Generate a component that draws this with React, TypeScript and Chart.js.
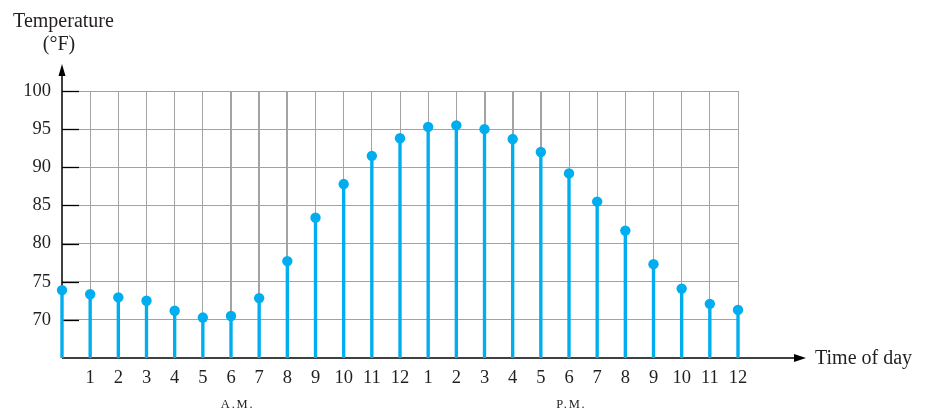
import React, { useEffect, useRef } from "react";
import { Chart, registerables } from "chart.js";

Chart.register(...registerables);

const hours = [0, 1, 2, 3, 4, 5, 6, 7, 8, 9, 10, 11, 12, 13, 14, 15, 16, 17, 18, 19, 20, 21, 22, 23, 24];
const temps = [73.9, 73.35, 72.95, 72.5, 71.2, 70.3, 70.5, 72.85, 77.7, 83.4, 87.8, 91.5, 93.8, 95.3, 95.5, 95.0, 93.7, 92.0, 89.2, 85.5, 81.7, 77.3, 74.1, 72.1, 71.3];
const xTickLabels = ["", "1", "2", "3", "4", "5", "6", "7", "8", "9", "10", "11", "12", "1", "2", "3", "4", "5", "6", "7", "8", "9", "10", "11", "12"];
const yTicks = [70, 75, 80, 85, 90, 95, 100];
const periodLabels = [
  { text: "A.M.", at: 6.2 },
  { text: "P.M.", at: 18.05 },
];
const thickGridHours = [6, 7, 8, 15, 16, 17];

const SERIF = "'Liberation Serif', 'Times New Roman', serif";
const TEXT = "#231f20";
const GRID = "rgb(163,163,163)";
const BLUE = "#00aeef";

const decorPlugin = {
  id: "decor",
  beforeDatasetsDraw(chart: any) {
    const { ctx, chartArea, scales } = chart;
    const { left, right, top, bottom } = chartArea;
    const y = scales.y;
    ctx.save();
    ctx.strokeStyle = "#000";
    ctx.lineWidth = 1.3;
    yTicks.forEach((v) => {
      const py = Math.round(y.getPixelForValue(v)) + 0.5;
      ctx.beginPath();
      ctx.moveTo(left, py);
      ctx.lineTo(left + 17, py);
      ctx.stroke();
    });
    ctx.lineWidth = 1.5;
    ctx.beginPath();
    ctx.moveTo(left, bottom);
    ctx.lineTo(left, top - 16);
    ctx.stroke();
    ctx.fillStyle = "#000";
    ctx.beginPath();
    ctx.moveTo(left, top - 27);
    ctx.lineTo(left - 3.5, top - 15);
    ctx.lineTo(left + 3.5, top - 15);
    ctx.closePath();
    ctx.fill();
    ctx.beginPath();
    ctx.moveTo(left, bottom);
    ctx.lineTo(right + 58, bottom);
    ctx.stroke();
    ctx.beginPath();
    ctx.moveTo(right + 68, bottom);
    ctx.lineTo(right + 56, bottom - 4);
    ctx.lineTo(right + 56, bottom + 4);
    ctx.closePath();
    ctx.fill();
    ctx.restore();
  },
  afterDraw(chart: any) {
    const { ctx, chartArea, scales } = chart;
    const { left, right, top, bottom } = chartArea;
    const x = scales.x;
    ctx.save();
    ctx.fillStyle = TEXT;
    ctx.textAlign = "center";
    ctx.textBaseline = "alphabetic";
    ctx.font = `20px ${SERIF}`;
    ctx.fillText("Temperature", left + 1.5, top - 64);
    ctx.fillText("(°F)", left - 3, top - 41);
    ctx.textAlign = "left";
    ctx.textBaseline = "middle";
    ctx.fillText("Time of day", right + 77, bottom + 1);
    ctx.textAlign = "center";
    ctx.textBaseline = "alphabetic";
    ctx.font = `12.5px ${SERIF}`;
    (ctx as any).letterSpacing = "1.8px";
    periodLabels.forEach((p) => {
      ctx.fillText(p.text, x.getPixelForValue(p.at) + 1, bottom + 50);
    });
    ctx.restore();
  },
};

export default function App() {
  const ref = useRef<HTMLCanvasElement>(null);

  useEffect(() => {
    if (!ref.current) return;
    const chart = new Chart(ref.current, {
      type: "bar",
      data: {
        datasets: [
          {
            type: "scatter",
            data: hours.map((h, i) => ({ x: h, y: temps[i] })),
            backgroundColor: BLUE,
            borderColor: BLUE,
            pointRadius: 5.2,
            pointBorderWidth: 0,
            clip: false,
            order: 0,
          } as any,
          {
            type: "bar",
            data: hours.map((h, i) => ({ x: h, y: temps[i] })),
            backgroundColor: BLUE,
            borderWidth: 0,
            barThickness: 2.7,
            clip: { left: 5, right: 5, top: 0, bottom: 0 },
            order: 1,
          } as any,
        ],
      },
      plugins: [decorPlugin],
      options: {
        responsive: false,
        animation: false,
        events: [],
        layout: { padding: { top: 91, right: 192, left: 0, bottom: 0 } },
        plugins: { legend: { display: false }, tooltip: { enabled: false } },
        scales: {
          x: {
            type: "linear",
            min: 0,
            max: 24,
            offset: false,
            afterFit: (s: any) => {
              s.height = 59;
            },
            border: { display: false },
            grid: {
              offset: false,
              drawTicks: false,
              color: (c: any) => (c.tick && c.tick.value === 0 ? "rgba(0,0,0,0)" : GRID),
              lineWidth: (c: any) => (c.tick && thickGridHours.includes(c.tick.value) ? 2 : 1),
            },
            ticks: {
              stepSize: 1,
              autoSkip: false,
              maxRotation: 0,
              padding: 9,
              color: TEXT,
              font: { family: SERIF, size: 18.5 },
              callback: (v: any) => xTickLabels[Math.round(Number(v))] ?? "",
            },
          },
          y: {
            type: "linear",
            min: 65,
            max: 100,
            afterFit: (s: any) => {
              s.width = 62;
            },
            border: { display: false },
            grid: {
              drawTicks: false,
              color: (c: any) => (c.tick && c.tick.value === 65 ? "rgba(0,0,0,0)" : GRID),
              lineWidth: 1,
            },
            ticks: {
              stepSize: 5,
              padding: 11,
              color: TEXT,
              font: { family: SERIF, size: 18.5 },
              callback: (v: any) => (yTicks.includes(Number(v)) ? String(v) : ""),
            },
          },
        },
      } as any,
    });
    return () => chart.destroy();
  }, []);

  return (
    <div style={{ position: "fixed", left: 0, top: 0, width: 930, height: 417, background: "#fff" }}>
      <canvas ref={ref} width={930} height={417} />
    </div>
  );
}
